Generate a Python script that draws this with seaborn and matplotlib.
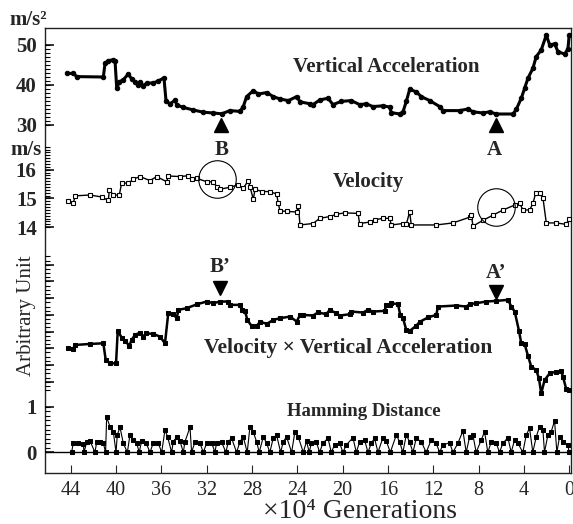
import numpy as np
import matplotlib
matplotlib.use("Agg")
import matplotlib.pyplot as plt
import matplotlib.ticker as mticker
import matplotlib.transforms as mtransforms
import seaborn as sns

# ---------------- data (x in 10^4 generations) ----------------
accel_x = [44.35, 43.77, 43.47, 41.12, 40.97, 40.68, 40.24, 40.09, 39.94, 39.71, 39.36, 38.92,
           38.62, 38.33, 38.03, 37.88, 37.59, 37.29, 36.71, 36.27, 35.77, 35.59, 35.24, 34.79,
           34.64, 34.06, 33.18, 32.3, 31.41, 30.67, 29.94, 29.06, 28.77, 28.47, 27.88, 27.44,
           26.7, 26.12, 25.53, 24.79, 24.05, 23.76, 22.88, 22.61, 22.02, 21.29, 20.85, 20.12,
           19.23, 18.5, 17.91, 17.32, 16.44, 15.85, 15.7, 14.96, 14.67, 14.38, 14.08, 13.5,
           13.06, 12.31, 11.43, 11.14, 9.67, 8.93, 8.49, 7.61, 7.02, 6.44, 4.96, 4.67, 4.23,
           3.93, 3.64, 3.2, 2.91, 2.47, 2.02, 1.72, 1.28, 0.99, 0.4, 0.11, 0.0]
accel_v = [42.9, 42.9, 42.1, 42.0, 45.4, 46.1, 46.3, 46.1, 39.2, 40.8, 41.3, 42.75,
           41.5, 40.8, 40.0, 40.8, 39.8, 40.5, 40.5, 41.0, 41.8, 36.1, 35.25, 36.25,
           35.0, 34.4, 33.75, 33.2, 33.0, 32.8, 33.6, 33.4, 34.6, 37.1, 38.6, 37.75,
           38.1, 37.1, 36.5, 36.1, 37.1, 35.8, 35.3, 35.1, 36.25, 36.7, 35.1, 35.9,
           36.1, 35.1, 35.3, 34.6, 34.8, 34.5, 33.1, 32.75, 33.3, 35.9, 38.9, 38.3,
           37.1, 36.1, 34.6, 33.6, 33.6, 34.0, 33.3, 33.0, 33.3, 32.75, 32.75, 33.9, 36.7,
           39.2, 41.7, 44.2, 47.1, 48.75, 52.5, 50.0, 50.3, 48.3, 47.75, 49.0, 52.5]

vel_x = [44.2, 43.77, 43.6, 42.3, 41.26, 40.68, 40.59, 40.24, 39.71, 39.5, 38.92, 38.48,
         37.88, 37.0, 36.41, 35.53, 35.39, 34.35, 33.62, 33.32, 32.88, 32.0, 31.41, 31.12,
         30.82, 29.94, 29.21, 28.77, 28.33, 28.18, 27.88, 27.73, 27.14, 26.41, 25.82, 25.68,
         25.53, 24.94, 24.05, 23.91, 23.76, 22.61, 22.02, 21.14, 20.56, 19.82, 18.64, 18.5,
         17.61, 17.17, 16.44, 15.85, 15.7, 14.67, 14.38, 14.08, 13.94, 11.73, 10.26, 8.78,
         8.64, 8.49, 7.61, 6.73, 5.84, 4.81, 4.37, 4.08, 3.49, 3.2, 2.96, 2.61, 2.31, 2.02,
         1.14, 0.26, 0.0]
vel_v = [14.92, 14.85, 15.09, 15.12, 15.05, 14.93, 15.3, 15.12, 15.12, 15.55, 15.52, 15.67,
         15.76, 15.62, 15.76, 15.58, 15.78, 15.76, 15.79, 15.68, 15.7, 15.58, 15.58, 15.41,
         15.32, 15.39, 15.47, 15.35, 15.62, 15.41, 14.97, 15.32, 15.24, 15.24, 15.15, 14.83,
         14.57, 14.55, 14.53, 14.74, 14.08, 14.13, 14.31, 14.37, 14.45, 14.5, 14.48, 14.13,
         14.18, 14.26, 14.31, 14.31, 14.08, 14.13, 14.1, 14.54, 14.08, 14.08, 14.15, 14.35,
         14.42, 14.04, 14.24, 14.42, 14.6, 14.77, 14.83, 14.6, 14.6, 14.83, 15.18, 15.2, 15.0, 14.15,
         14.15, 14.1, 14.3]

prod_x = [44.2, 43.77, 43.62, 42.3, 41.12, 40.91, 40.53, 40.0, 39.85, 39.5, 39.2, 38.83,
          38.62, 38.33, 37.88, 37.59, 37.35, 36.71, 36.12, 35.68, 35.39, 34.94, 34.64, 34.5,
          33.77, 32.88, 32.0, 31.41, 30.82, 30.09, 29.94, 29.06, 28.91, 28.62, 28.41, 28.03,
          27.58, 27.29, 26.7, 26.12, 25.53, 24.64, 24.05, 23.76, 23.5, 22.61, 22.17, 21.44,
          21.14, 20.56, 20.26, 19.38, 19.23, 18.2, 17.76, 17.32, 16.29, 16.14, 15.85, 15.7,
          15.11, 14.91, 14.67, 14.38, 14.08, 13.5, 13.2, 12.46, 11.73, 11.58, 9.97, 9.08,
          8.78, 8.2, 7.32, 6.44, 5.4, 5.11, 4.81, 4.43, 4.23, 3.93, 3.64, 3.35, 2.91, 2.67,
          2.47, 2.17, 1.72, 1.14, 0.7, 0.55, 0.26, 0.0]
prod_u = [3.0, 2.98, 3.2, 3.26, 3.3, 2.3, 2.1, 2.1, 4.04, 3.64, 3.44, 3.16,
          3.5, 3.8, 3.94, 3.7, 3.9, 3.86, 3.7, 3.3, 5.1, 5.04, 4.8, 5.3,
          5.4, 5.63, 5.8, 5.7, 5.8, 5.8, 5.6, 5.6, 5.3, 5.24, 4.7, 4.33,
          4.33, 4.6, 4.46, 4.7, 4.8, 4.9, 4.6, 5.0, 5.0, 4.96, 5.15, 5.04,
          5.3, 5.1, 4.96, 5.04, 5.2, 5.14, 5.3, 5.2, 5.24, 5.6, 5.6, 5.7,
          5.64, 5.0, 4.8, 4.1, 4.04, 4.35, 4.58, 4.85, 5.0, 5.5, 5.56, 5.5,
          5.64, 5.7, 5.8, 5.84, 5.9, 5.5, 5.2, 4.04, 3.3, 3.24, 2.56, 1.9, 1.7, 1.2,
          0.3, 1.1, 1.5, 1.6, 1.64, 1.3, 0.56, 0.5]

ham_x = [43.92, 43.77, 43.33, 42.89, 42.83, 42.59, 42.3, 41.86, 41.71, 41.42, 41.12, 40.92,
         40.83, 40.53, 40.24, 40.0, 39.89, 39.65, 39.36, 39.0, 38.77, 38.53, 38.18, 37.95,
         37.74, 37.36, 37.0, 36.71, 36.27, 35.97, 35.68, 35.45, 35.09, 34.95, 34.65, 34.36,
         34.06, 33.92, 33.47, 33.33, 33.03, 32.59, 32.3, 32.0, 31.56, 31.27, 31.12, 30.68,
         30.3, 30.09, 29.8, 29.36, 29.06, 28.77, 28.42, 28.18, 27.89, 27.59, 27.36, 27.0,
         26.71, 26.42, 26.12, 25.83, 25.47, 25.24, 24.95, 24.5, 24.21, 23.92, 23.47, 23.18,
         22.95, 22.76, 22.32, 22.03, 21.74, 21.29, 21.0, 20.71, 20.26, 19.97, 19.68, 19.09,
         18.79, 18.5, 18.06, 17.76, 17.47, 17.18, 16.88, 16.44, 16.15, 15.79, 15.26, 14.97,
         14.68, 14.38, 14.09, 13.79, 13.5, 13.06, 12.62, 12.18, 11.74, 11.44, 11.15, 10.56,
         10.26, 9.82, 9.38, 9.09, 8.79, 8.5, 8.21, 7.76, 7.47, 7.18, 6.88, 6.44, 6.15, 5.85,
         5.41, 5.12, 4.82, 4.53, 4.09, 3.79, 3.5, 3.21, 2.91, 2.62, 2.32, 2.18, 1.88, 1.59,
         1.29, 1.09, 0.85, 0.56, 0.12, 0.0]
ham_h = [0, 0.21, 0.21, 0.19, 0, 0.22, 0.25, 0, 0.22, 0.23, 0.2, 0,
         0.77, 0.56, 0.45, 0, 0.38, 0.55, 0.2, 0, 0.38, 0.26, 0.2, 0,
         0.25, 0.21, 0, 0.21, 0.2, 0, 0.49, 0.34, 0, 0.23, 0.34, 0.25,
         0, 0.23, 0.55, 0, 0.23, 0.2, 0, 0.2, 0.21, 0, 0.21, 0.22,
         0, 0.23, 0.31, 0, 0.23, 0.34, 0, 0.56, 0.45, 0.23, 0, 0.34,
         0.2, 0, 0.32, 0.38, 0, 0.23, 0.34, 0, 0.45, 0.34, 0, 0.24,
         0, 0.2, 0.23, 0, 0.2, 0.31, 0, 0.16, 0.2, 0, 0.16, 0.32,
         0, 0.23, 0.27, 0, 0.2, 0.31, 0, 0.32, 0.25, 0, 0.38, 0.23,
         0, 0.38, 0.23, 0, 0.31, 0.23, 0, 0.27, 0.2, 0, 0.16, 0.21,
         0, 0.2, 0.47, 0, 0.34, 0.38, 0, 0.27, 0.45, 0, 0.23, 0.2, 0, 0.2,
         0.32, 0, 0.27, 0.2, 0, 0.38, 0.53, 0, 0.34, 0.56, 0.49, 0, 0.38, 0.45,
         0.69, 0, 0.34, 0.23, 0.16, 0]

x_ticks = [44, 40, 36, 32, 28, 24, 20, 16, 12, 8, 4, 0]
accel_ticks = [30, 40, 50]
vel_ticks = [14, 15, 16]
ham_ticks = [0, 1]

# ---------------- style ----------------
sns.set_style("ticks")
plt.rcParams["font.family"] = ["Liberation Serif", "DejaVu Serif"]

W, H = 573, 524
fig = plt.figure(figsize=(W / 100, H / 100), dpi=100)

L, R = 45, 571
def band(top, bottom):
    return [L / W, 1 - bottom / H, (R - L) / W, (bottom - top) / H]

ax = fig.add_axes(band(28, 473))
ax.set_zorder(0)
ax.set_xlim(46.27, -0.16)
ax.set_yticks([])
ax.set_xticks(x_ticks)
ax.set_xticklabels([str(t) for t in x_ticks], fontsize=14.5)
ax.tick_params(axis="x", direction="in", length=6, width=0.8, pad=6)
for s in ax.spines.values():
    s.set_color("#222222")
    s.set_linewidth(1.0)

lab_font = dict(fontsize=15, fontweight="bold")
common = dict(color="black", estimator=None, sort=False, legend=False)
MAJ_LEN = 9 / (R - L)
MIN_LEN = 5 / (R - L)


def panel(top, bottom, ylim, major, minor, labels):
    a = fig.add_axes(band(top, bottom))
    a.set_zorder(2)
    a.patch.set_alpha(0)
    for s in a.spines.values():
        s.set_visible(False)
    a.set_xlim(46.27, -0.16)
    a.set_ylim(*ylim)
    a.set_xticks([])
    a.set_yticks(major)
    a.set_yticklabels(labels, **lab_font)
    a.tick_params(axis="y", which="both", length=0, pad=6)
    return a


def draw_ticks(a, major, minor):
    # inward tick marks on the main frame, placed through the panel's y scale
    tr = mtransforms.blended_transform_factory(ax.transAxes, a.transData)
    ax.hlines(major, 0, MAJ_LEN, transform=tr, color="black", lw=1.1,
              clip_on=False, zorder=5)
    ax.hlines(minor, 0, MIN_LEN, transform=tr, color="black", lw=0.8,
              clip_on=False, zorder=5)


def finish(a):
    a.set_xlabel("")
    a.set_ylabel("")
    a.set_xlim(46.27, -0.16)


acc_minor = np.arange(30, 51, 1)
vel_minor = np.arange(14, 16.85, 0.1)
prod_major = list(range(1, 9))
prod_minor = np.arange(0.5, 8.6, 0.25)
ham_minor = np.arange(0, 1.01, 0.1)

ax_a = panel(28, 140, (26.25, 54.25), accel_ticks, acc_minor,
             [str(t) for t in accel_ticks])
sns.lineplot(x=accel_x, y=accel_v, ax=ax_a, marker="o", markersize=3.2,
             linewidth=2.2, markeredgecolor="black", **common)
finish(ax_a)

ax_v = panel(140, 250, (13.21, 17.03), vel_ticks, vel_minor,
             [str(t) for t in vel_ticks])
sns.lineplot(x=vel_x, y=vel_v, ax=ax_v, marker="s", markersize=3.2,
             linewidth=1.0, markerfacecolor="white", markeredgecolor="black",
             markeredgewidth=0.8, **common)
finish(ax_v)

ax_p = panel(250, 397, (0.084, 8.886), prod_major, prod_minor, [""] * 8)
sns.lineplot(x=prod_x, y=prod_u, ax=ax_p, marker="s", markersize=2.6,
             linewidth=1.8, markeredgecolor="black", **common)
finish(ax_p)

ax_h = panel(397, 473, (-0.454, 1.213), ham_ticks, ham_minor,
             [str(t) for t in ham_ticks])
sns.lineplot(x=ham_x, y=ham_h, ax=ax_h, marker="s", markersize=3.4,
             linewidth=0.8, markeredgecolor="black", **common)
ax_h.axhline(0, color="black", lw=1.0)
finish(ax_h)

# markers / annotations
ax_a.plot([30.7, 6.5], [30.0, 30.0], ls="none", marker="^", ms=10, color="black")
ax_v.plot([31.12], [15.68], ls="none", marker="o", ms=27, mfc="none", mec="black", mew=0.8)
ax_v.plot([6.49], [14.69], ls="none", marker="o", ms=27, mfc="none", mec="black", mew=0.8)
ax_v.text(30.7, 16.69, "B", ha="center", va="center", **lab_font)
ax_v.text(6.6, 16.69, "A", ha="center", va="center", **lab_font)
ax_p.plot([30.82, 6.5], [6.59, 6.39], ls="none", marker="v", ms=10, color="black")
ax_p.text(30.82, 7.89, "B\u2019", ha="center", va="center", **lab_font)
ax_p.text(6.5, 7.49, "A\u2019", ha="center", va="center", **lab_font)

ax_a.text(16.13, 44.6, "Vertical Acceleration", ha="center", va="center", **lab_font)
ax_v.text(17.69, 15.58, "Velocity", ha="center", va="center", **lab_font)
ax_p.text(19.5, 3.02, "Velocity \u00d7 Vertical Acceleration", ha="center", va="center",
          fontsize=15.5, fontweight="bold")
ax_h.text(18.17, 0.89, "Hamming Distance", ha="center", va="center",
          fontsize=13.5, fontweight="bold")

for a in (ax_a, ax_v, ax_p, ax_h):
    a.set_xlim(46.27, -0.16)

# tick marks drawn after all limits are final
draw_ticks(ax_a, accel_ticks, acc_minor)
draw_ticks(ax_v, vel_ticks, vel_minor)
draw_ticks(ax_p, prod_major, prod_minor)
draw_ticks(ax_h, ham_ticks, ham_minor)
ax.set_ylim(0, 1)

fig.text(28 / W, 1 - 20 / H, "m/s\u00b2", ha="center", va="center", **lab_font)
fig.text(26 / W, 1 - 150 / H, "m/s", ha="center", va="center", **lab_font)
fig.text(27 / W, 1 - 316 / H, "Arbitrary Unit", rotation=90, ha="center", va="center",
         fontsize=15)
fig.text(360 / W, 1 - 511 / H, "\u00d710\u2074 Generations", ha="center", va="center",
         fontsize=20)

fig.savefig("out.png", dpi=100)
